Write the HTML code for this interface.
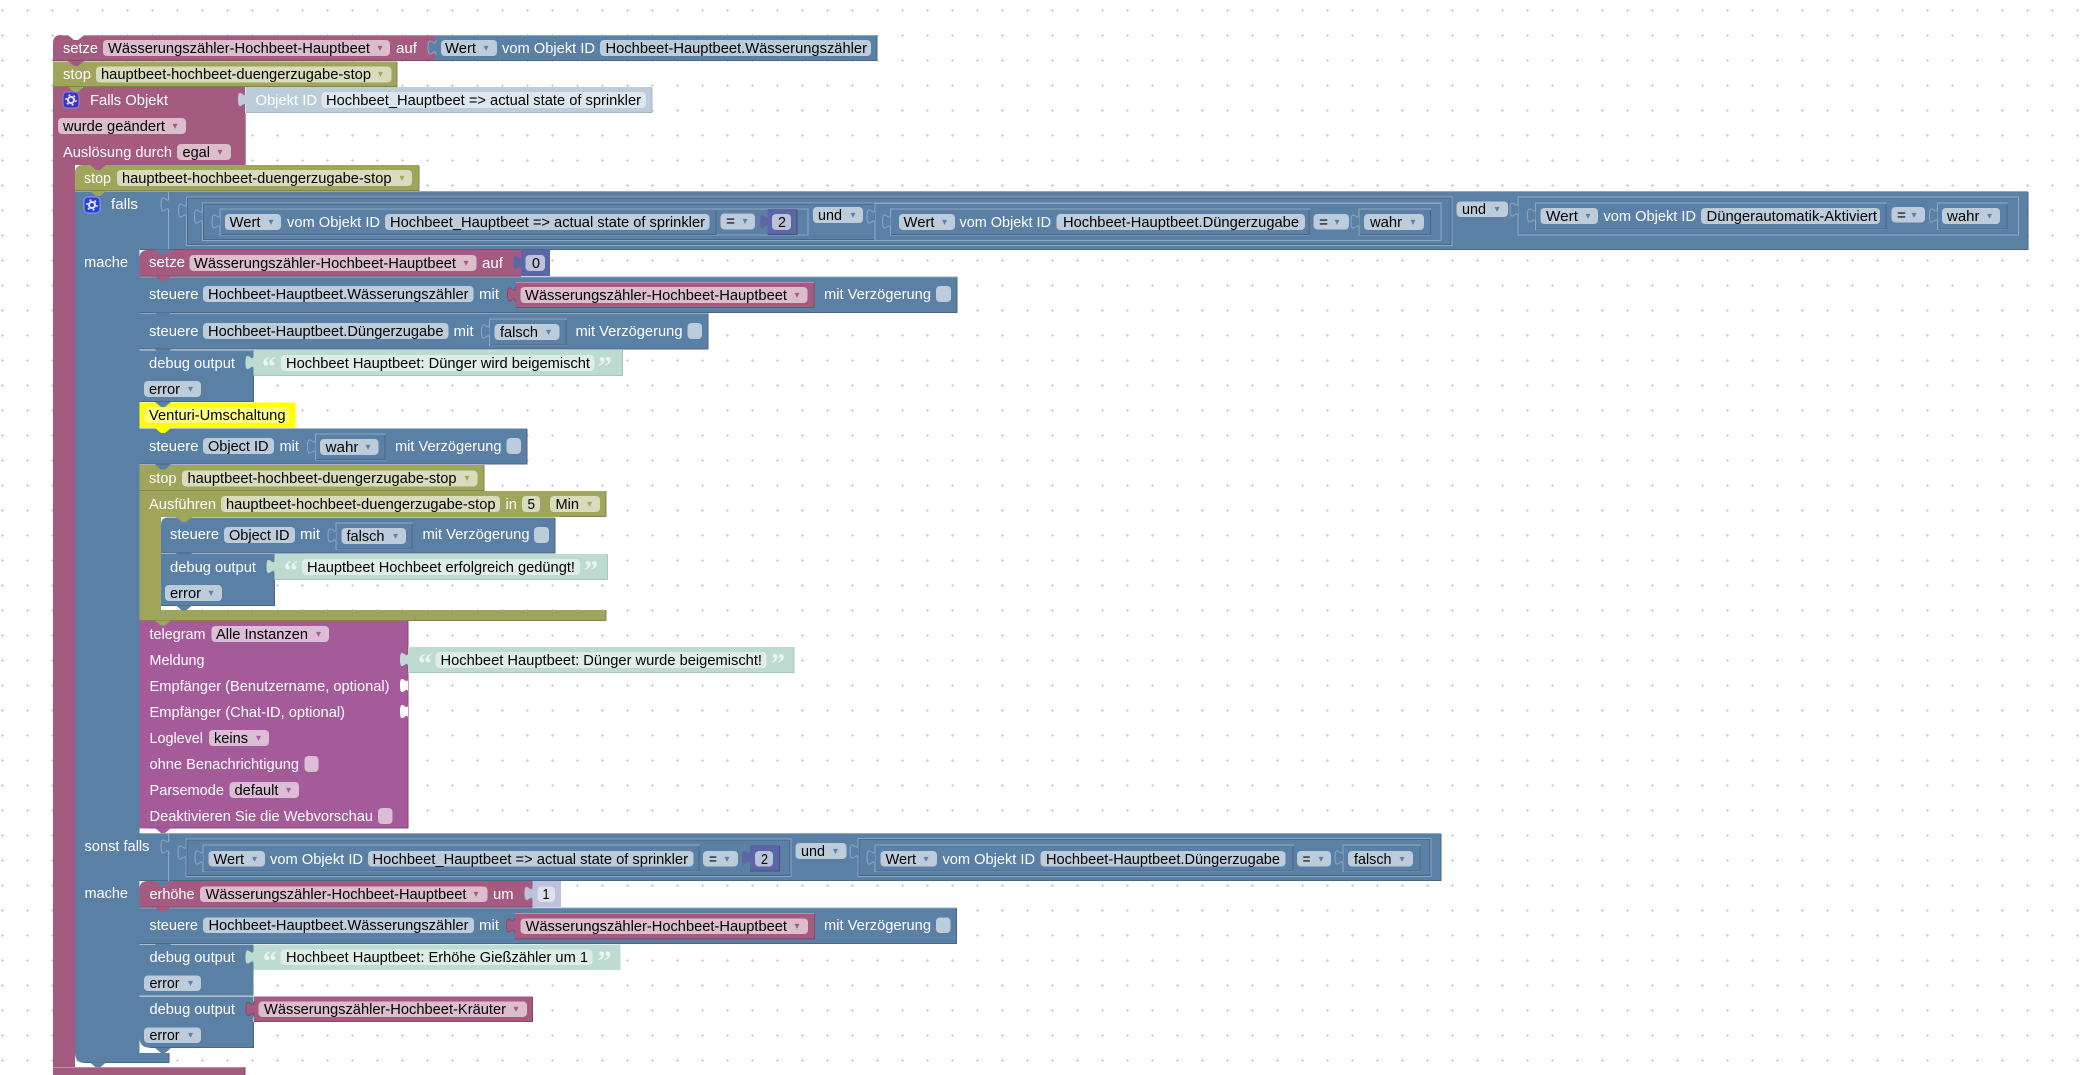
<!DOCTYPE html>
<html><head><meta charset="utf-8"><style>
html,body{margin:0;padding:0;background:#fff;overflow:hidden}
svg{display:block}
text{font-family:"Liberation Sans",sans-serif;font-size:15px;white-space:pre}
.w{fill:#fff}.d{fill:#000}.g{fill:#fff}
.q{font-family:"Liberation Serif",serif;font-size:28px;font-weight:bold;fill:#eaf5f1}
.am,.ab,.ao,.ap{font-family:"DejaVu Sans",sans-serif;font-size:10px;text-anchor:middle}
.am{fill:#a55b80}.ab{fill:#5b80a5}.ao{fill:#9fa55b}.ap{fill:#a55b99}
.M{fill:#a55b80}.B{fill:#5b80a5}.O{fill:#9fa55b}.P{fill:#a55b99}.N{fill:#5b67a5}.L{fill:#bdccdb}.T{fill:#bddbd1}.Y{fill:#ff0}.NL{fill:#bdc2db}.W{fill:#fff}
.fm,.fb,.fo,.fp,.fn,.ft,.fl,.fy{rx:4px;ry:4px}
.fm{fill:#dbbdcc}.fb{fill:#bdccdb}.fo{fill:#d9dbbd}.fp{fill:#dbbdd6}.fn{fill:#bdc2db}.ft{fill:#deede8}.fl{fill:#dee6ed}.fy{fill:#ffff80}
.ob{fill:#5b80a5;stroke:#8fa9c3;stroke-width:1}
.ib{fill:none;stroke:#496684;stroke-width:1}
.tb{fill:#5b80a5;stroke:#8fa9c3;stroke-width:1}
.tm{fill:#a55b80;stroke:#844966;stroke-width:1}
.lb{stroke:#496684;fill:none}.hb{stroke:#8fa9c3;fill:none}
.lm{stroke:#844966;fill:none}.hm{stroke:#c08ca6;fill:none}
.lo{stroke:#7f844a;fill:none}.ho{stroke:#bcc08c;fill:none}
.lp{stroke:#844a7a;fill:none}
.lT{stroke:#a5c8bc;fill:none}
</style></head><body>
<svg xmlns="http://www.w3.org/2000/svg" width="2099" height="1075" viewBox="0 0 2099 1075">
<defs>
<pattern id="dots" width="25" height="25" patternUnits="userSpaceOnUse" x="0" y="0">
<rect x="1" y="10" width="3" height="1" fill="#cfcfcf"/><rect x="2" y="9" width="1" height="3" fill="#cfcfcf"/>
</pattern>
<path id="t" d="M0 0c0 10-8-8-8 7.5s8-2.5 8 7.5"/>
<path id="n" d="M-8 0H8L2 5H-2z"/>
</defs>
<rect width="2099" height="1075" fill="#fff"/>
<rect width="2099" height="1075" fill="url(#dots)"/>

<!-- magenta C frame -->
<path class="M" d="M53 87H245V165H75V1067H245V1075H53z"/>
<path class="hm" d="M245.500 113V165.500"/>
<!-- row 1 -->
<path class="M" d="M53 43Q53 35 61 35H435V61H53z"/>
<path class="lm" d="M53 60.500H435"/><path class="hm" d="M61 35.500H435"/>
<use href="#n" x="76" y="35" class="W"/>
<rect class="B" x="435" y="35" width="442" height="26"/>
<path class="lb" d="M877 35.500V60.500H435"/><path class="hb" d="M435 35.500H877"/>
<use href="#t" x="436" y="40" class="tb"/>
<text class="w" x="63" y="53" textLength="35" lengthAdjust="spacingAndGlyphs">setze</text>
<rect class="fm" x="103" y="40" width="287" height="16"/>
<text class="d" x="108" y="53" textLength="262" lengthAdjust="spacingAndGlyphs">Wässerungszähler-Hochbeet-Hauptbeet</text>
<text class="am" x="380" y="51">▾</text>
<text class="w" x="396" y="53" textLength="21" lengthAdjust="spacingAndGlyphs">auf</text>
<rect class="fb" x="441" y="40" width="56" height="16"/>
<text class="d" x="445" y="53" textLength="31" lengthAdjust="spacingAndGlyphs">Wert</text>
<text class="ab" x="486" y="51">▾</text>
<text class="w" x="502" y="53" textLength="93" lengthAdjust="spacingAndGlyphs">vom Objekt ID</text>
<rect class="fb" x="600" y="40" width="271" height="16"/>
<text class="d" x="605.500" y="53" textLength="261.500" lengthAdjust="spacingAndGlyphs">Hochbeet-Hauptbeet.Wässerungszähler</text>
<!-- row 2 stop -->
<rect class="O" x="53" y="61.500" width="344" height="25.500"/>
<path class="lo" d="M397 62V86.500H53"/>
<text class="w" x="63" y="79" textLength="28" lengthAdjust="spacingAndGlyphs">stop</text>
<rect class="fo" x="96" y="66.500" width="295.500" height="16"/>
<text class="d" x="101" y="79" textLength="270" lengthAdjust="spacingAndGlyphs">hauptbeet-hochbeet-duengerzugabe-stop</text>
<text class="ao" x="380.500" y="77">▾</text>
<!-- falls objekt -->
<rect x="63" y="92" width="16" height="16" rx="4" fill="#3c33c4" stroke="#8f86dc"/>
<circle cx="71" cy="100" r="3" fill="#3c33c4" stroke="#e8e6fa" stroke-width="2"/>
<circle cx="71" cy="100" r="5" fill="none" stroke="#e8e6fa" stroke-width="1.500" stroke-dasharray="2 3.200"/>
<text class="w" x="90" y="105" textLength="78" lengthAdjust="spacingAndGlyphs">Falls Objekt</text>
<rect class="L" x="245.500" y="87" width="406.500" height="26"/>
<path stroke="#a5b7c9" fill="none" d="M652 87.500V112.500H245.500"/>
<use href="#t" x="246" y="92" class="L"/>
<text class="g" x="255.500" y="105" textLength="61.500" lengthAdjust="spacingAndGlyphs">Objekt ID</text>
<rect class="fl" x="321.500" y="92" width="324.500" height="16"/>
<text class="d" x="326" y="105" textLength="315" lengthAdjust="spacingAndGlyphs">Hochbeet_Hauptbeet =&gt; actual state of sprinkler</text>
<rect class="fm" x="58" y="118" width="128" height="16"/>
<text class="d" x="63" y="131" textLength="102" lengthAdjust="spacingAndGlyphs">wurde geändert</text>
<text class="am" x="175" y="129">▾</text>
<text class="w" x="63" y="157" textLength="109" lengthAdjust="spacingAndGlyphs">Auslösung durch</text>
<rect class="fm" x="177" y="144" width="54" height="16"/>
<text class="d" x="182.500" y="157" textLength="27.500" lengthAdjust="spacingAndGlyphs">egal</text>
<text class="am" x="220" y="155">▾</text>

<!-- blue C frame -->
<path class="B" d="M75 191H2028V249.500H139.500V833H1441V881H139.500V1053H169V1063H85Q75 1063 75 1053z"/>
<path class="lb" d="M2028 192V249.500H140"/><path class="hb" d="M75 191.500H2028"/>
<path class="lb" d="M1441 834V880.500H140"/><path class="hb" d="M140 833.500H1441"/>
<path class="hb" d="M168.500 191V249M168.500 833V881"/>
<path class="lb" d="M169 1053V1062.500H86"/>
<path class="W" d="M139.500 1038Q139.500 1047 149 1047.700H253V1053H149Q139.500 1052 139.500 1042z"/>
<rect class="W" x="139.500" y="828" width="270" height="5"/>
<path class="W" d="M139.500 820Q139.500 828 148 828.300H140V833H149Q139.500 832 139.500 826z"/>

<!-- stop 2 -->
<path class="O" d="M75 173Q75 165 83 165H419V191H75z"/>
<path class="lo" d="M419 166V190.500H75"/>
<text class="w" x="84" y="183" textLength="27" lengthAdjust="spacingAndGlyphs">stop</text>
<rect class="fo" x="117" y="170" width="295" height="16"/>
<text class="d" x="122" y="183" textLength="269.500" lengthAdjust="spacingAndGlyphs">hauptbeet-hochbeet-duengerzugabe-stop</text>
<text class="ao" x="402" y="181">▾</text>

<!-- falls row -->
<rect x="84" y="197" width="16" height="16" rx="4" fill="#2a3fd8" stroke="#8fa0ea"/>
<circle cx="92" cy="205" r="3" fill="#2a3fd8" stroke="#e8ecfb" stroke-width="2"/>
<circle cx="92" cy="205" r="5" fill="none" stroke="#e8ecfb" stroke-width="1.500" stroke-dasharray="2 3.200"/>
<text class="w" x="111" y="209" textLength="27" lengthAdjust="spacingAndGlyphs">falls</text>
<use href="#t" x="169" y="197" class="tb"/>
<rect class="ob" x="186.500" y="197" width="1265.500" height="48.500"/>
<rect class="ib" x="187.500" y="198" width="1263.500" height="46.500"/>
<use href="#t" x="186.500" y="203" class="tb"/>
<rect class="ob" x="202.500" y="203" width="1238.500" height="37.500"/>
<rect class="ib" x="203.500" y="204" width="1236.500" height="35.500"/>
<use href="#t" x="202.500" y="209" class="tb"/>
<rect class="ob" x="220" y="209" width="588" height="26"/>
<rect class="ob" x="220" y="209" width="496" height="26"/>
<path class="lb" d="M716 210V234.500H221"/>
<use href="#t" x="220" y="214" class="tb"/>
<rect class="fb" x="225" y="214" width="56" height="16"/>
<text class="d" x="229.500" y="227" textLength="31" lengthAdjust="spacingAndGlyphs">Wert</text>
<text class="ab" x="271" y="225">▾</text>
<text class="w" x="287" y="227" textLength="93" lengthAdjust="spacingAndGlyphs">vom Objekt ID</text>
<rect class="fb" x="385" y="214" width="324.500" height="16"/>
<text class="d" x="390" y="227" textLength="315" lengthAdjust="spacingAndGlyphs">Hochbeet_Hauptbeet =&gt; actual state of sprinkler</text>
<rect class="fb" x="720.500" y="213.500" width="34.500" height="16"/>
<text class="d" x="726" y="226" textLength="9" lengthAdjust="spacingAndGlyphs">=</text>
<text class="ab" x="745" y="224">▾</text>
<rect class="N" x="767.500" y="209" width="29.500" height="26"/>
<path stroke="#464f7f" fill="none" d="M797 209.500V234.500H768"/>
<use href="#t" x="768" y="214" class="N"/>
<rect class="fn" x="772" y="214" width="19" height="16"/>
<text class="d" x="778" y="227" textLength="8" lengthAdjust="spacingAndGlyphs">2</text>
<rect class="fb" x="813" y="207" width="50" height="16"/>
<text class="d" x="818" y="220" textLength="24" lengthAdjust="spacingAndGlyphs">und</text>
<text class="ab" x="853" y="218">▾</text>
<use href="#t" x="875" y="209" class="tb"/>
<rect class="ob" x="875" y="203.500" width="566" height="37"/>
<use href="#t" x="875" y="209" class="tb"/>
<rect class="ob" x="890.500" y="209" width="418.500" height="26"/>
<path class="lb" d="M1309 210V234.500H891"/>
<use href="#t" x="890.500" y="214" class="tb"/>
<rect class="fb" x="899" y="214" width="56" height="16"/>
<text class="d" x="903.500" y="227" textLength="31" lengthAdjust="spacingAndGlyphs">Wert</text>
<text class="ab" x="944.500" y="225">▾</text>
<text class="w" x="959.500" y="227" textLength="91.500" lengthAdjust="spacingAndGlyphs">vom Objekt ID</text>
<rect class="fb" x="1056.500" y="214" width="248.500" height="16"/>
<text class="d" x="1063" y="227" textLength="236" lengthAdjust="spacingAndGlyphs">Hochbeet-Hauptbeet.Düngerzugabe</text>
<rect class="fb" x="1313.500" y="214" width="35.500" height="15.500"/>
<text class="d" x="1319" y="227" textLength="9" lengthAdjust="spacingAndGlyphs">=</text>
<text class="ab" x="1337" y="225">▾</text>
<rect class="ob" x="1359" y="209" width="71.500" height="26"/>
<use href="#t" x="1359" y="214" class="tb"/>
<path class="lb" d="M1430.500 210V234.500H1360"/>
<rect class="fb" x="1364" y="214" width="60" height="16"/>
<text class="d" x="1370" y="227" textLength="32" lengthAdjust="spacingAndGlyphs">wahr</text>
<text class="ab" x="1413" y="225">▾</text>
<rect class="fb" x="1456.500" y="201.500" width="51.500" height="15.500"/>
<text class="d" x="1462" y="214" textLength="24" lengthAdjust="spacingAndGlyphs">und</text>
<text class="ab" x="1497" y="212">▾</text>
<rect class="ob" x="1518" y="197" width="500.500" height="38"/>
<use href="#t" x="1518" y="202" class="tb"/>
<rect class="ob" x="1535.500" y="203" width="350.500" height="26.500"/>
<path class="lb" d="M1886 204V229H1536"/>
<use href="#t" x="1535.500" y="208" class="tb"/>
<rect class="fb" x="1540.500" y="208" width="57.500" height="16"/>
<text class="d" x="1546" y="221" textLength="32" lengthAdjust="spacingAndGlyphs">Wert</text>
<text class="ab" x="1588" y="219">▾</text>
<text class="w" x="1603.500" y="221" textLength="92.500" lengthAdjust="spacingAndGlyphs">vom Objekt ID</text>
<rect class="fb" x="1701" y="208" width="179" height="16"/>
<text class="d" x="1706.500" y="221" textLength="170.500" lengthAdjust="spacingAndGlyphs">Düngerautomatik-Aktiviert</text>
<rect class="fb" x="1891.500" y="207" width="33.500" height="15.500"/>
<text class="d" x="1897" y="220" textLength="9" lengthAdjust="spacingAndGlyphs">=</text>
<text class="ab" x="1914" y="218">▾</text>
<rect class="ob" x="1937.500" y="203" width="69.500" height="26.500"/>
<use href="#t" x="1937.500" y="208" class="tb"/>
<path class="lb" d="M2007 204V229H1938"/>
<rect class="fb" x="1942" y="208" width="58" height="16"/>
<text class="d" x="1947" y="221" textLength="32.500" lengthAdjust="spacingAndGlyphs">wahr</text>
<text class="ab" x="1989.500" y="219">▾</text>

<text class="w" x="84" y="267" textLength="44" lengthAdjust="spacingAndGlyphs">mache</text>
<!-- setze 0 -->
<path class="M" d="M139.500 258Q139.500 250 148 250H521V276H139.500z"/>
<path class="lm" d="M521 276H139.500"/>
<text class="w" x="149" y="267" textLength="36" lengthAdjust="spacingAndGlyphs">setze</text>
<rect class="fm" x="189.500" y="255" width="287" height="16"/>
<text class="d" x="194" y="268" textLength="262" lengthAdjust="spacingAndGlyphs">Wässerungszähler-Hochbeet-Hauptbeet</text>
<text class="am" x="466" y="266">▾</text>
<text class="w" x="482" y="268" textLength="21" lengthAdjust="spacingAndGlyphs">auf</text>
<rect class="N" x="521" y="250" width="29" height="26"/>
<use href="#t" x="521.500" y="255" class="N"/>
<rect class="fn" x="525.500" y="255" width="19.500" height="16"/>
<text class="d" x="532" y="268" textLength="8" lengthAdjust="spacingAndGlyphs">0</text>

<!-- steuere 1 -->
<rect class="B" x="139.500" y="276.500" width="817.500" height="36"/>
<path class="lb" d="M957 277V312.500H139.500"/><path class="hb" d="M139.500 277H957"/>
<text class="w" x="149" y="299" textLength="49.500" lengthAdjust="spacingAndGlyphs">steuere</text>
<rect class="fb" x="203" y="286" width="270.500" height="16"/>
<text class="d" x="208" y="299" textLength="260.500" lengthAdjust="spacingAndGlyphs">Hochbeet-Hauptbeet.Wässerungszähler</text>
<text class="w" x="479" y="299" textLength="20" lengthAdjust="spacingAndGlyphs">mit</text>
<rect class="M" x="515.500" y="282" width="298.500" height="26"/>
<path class="lm" d="M814 282.500V307.500H515.500"/><path class="hm" d="M515.500 282.500H814"/>
<use href="#t" x="515.500" y="287" class="tm"/>
<rect class="fm" x="520.500" y="287" width="287" height="16"/>
<text class="d" x="525" y="300" textLength="262" lengthAdjust="spacingAndGlyphs">Wässerungszähler-Hochbeet-Hauptbeet</text>
<text class="am" x="797" y="298">▾</text>
<text class="w" x="824" y="299" textLength="107" lengthAdjust="spacingAndGlyphs">mit Verzögerung</text>
<rect class="fb" x="936" y="286" width="15" height="16"/>

<!-- steuere 2 -->
<rect class="B" x="139.500" y="313" width="568.500" height="36.500"/>
<path class="lb" d="M708 313V349H139.500"/><path class="hb" d="M139.500 313.500H708"/>
<text class="w" x="149" y="336" textLength="49.500" lengthAdjust="spacingAndGlyphs">steuere</text>
<rect class="fb" x="203" y="323" width="245.500" height="16"/>
<text class="d" x="208" y="336" textLength="235.500" lengthAdjust="spacingAndGlyphs">Hochbeet-Hauptbeet.Düngerzugabe</text>
<text class="w" x="453.500" y="336" textLength="20" lengthAdjust="spacingAndGlyphs">mit</text>
<rect class="ob" x="489.500" y="319" width="76.500" height="26.500"/>
<use href="#t" x="489.500" y="324" class="tb"/>
<path class="lb" d="M566 320V345H490"/>
<rect class="fb" x="494.500" y="324" width="65" height="16"/>
<text class="d" x="500" y="337" textLength="38" lengthAdjust="spacingAndGlyphs">falsch</text>
<text class="ab" x="548.500" y="335">▾</text>
<text class="w" x="575.500" y="336" textLength="107" lengthAdjust="spacingAndGlyphs">mit Verzögerung</text>
<rect class="fb" x="687.500" y="323" width="14.500" height="16"/>

<!-- debug 1 -->
<rect class="B" x="139.500" y="350" width="114" height="52"/>
<path class="lb" d="M253.500 375V401.500H139.500"/><path class="hb" d="M139.500 350.500H253"/>
<text class="w" x="149" y="368" textLength="86" lengthAdjust="spacingAndGlyphs">debug output</text>
<rect class="T" x="253.500" y="350" width="369" height="26"/>
<path class="lT" d="M622.500 350V375.500H253.500"/>
<use href="#t" x="253.500" y="355" class="T"/>
<text class="q" x="262" y="376">“</text>
<rect class="ft" x="281" y="355" width="313.500" height="16"/>
<text class="d" x="286" y="368" textLength="304" lengthAdjust="spacingAndGlyphs">Hochbeet Hauptbeet: Dünger wird beigemischt</text>
<text class="q" x="598" y="376">”</text>
<rect class="fb" x="144" y="381" width="57" height="16"/>
<text class="d" x="149" y="394" textLength="31" lengthAdjust="spacingAndGlyphs">error</text>
<text class="ab" x="190.500" y="392">▾</text>

<!-- Venturi -->
<rect class="Y" x="139.500" y="402.500" width="156" height="25.500"/>
<rect class="fy" x="144.500" y="407.500" width="144.500" height="15.500"/>
<text class="d" x="149" y="420" textLength="136.500" lengthAdjust="spacingAndGlyphs">Venturi-Umschaltung</text>

<!-- steuere object -->
<rect class="B" x="139.500" y="428.500" width="387.500" height="36"/>
<path class="lb" d="M527 429V464H139.500"/>
<text class="w" x="149" y="451" textLength="49.500" lengthAdjust="spacingAndGlyphs">steuere</text>
<rect class="fb" x="203" y="438" width="71" height="16"/>
<text class="d" x="208" y="451" textLength="60.500" lengthAdjust="spacingAndGlyphs">Object ID</text>
<text class="w" x="279.500" y="451" textLength="19.500" lengthAdjust="spacingAndGlyphs">mit</text>
<rect class="ob" x="315.500" y="434" width="69.500" height="26"/>
<use href="#t" x="315.500" y="439" class="tb"/>
<path class="lb" d="M385 435V459.500H316"/>
<rect class="fb" x="320" y="439" width="58.500" height="16"/>
<text class="d" x="325.500" y="452" textLength="33" lengthAdjust="spacingAndGlyphs">wahr</text>
<text class="ab" x="368" y="450">▾</text>
<text class="w" x="395" y="451" textLength="106.500" lengthAdjust="spacingAndGlyphs">mit Verzögerung</text>
<rect class="fb" x="506.500" y="438" width="14.500" height="16"/>

<!-- stop 3 -->
<rect class="O" x="139.500" y="465" width="344.500" height="26"/>
<path class="lo" d="M484 465V490.500H139.500"/>
<text class="w" x="149" y="483" textLength="27.500" lengthAdjust="spacingAndGlyphs">stop</text>
<rect class="fo" x="182" y="470.500" width="295.500" height="16"/>
<text class="d" x="187.500" y="483" textLength="269" lengthAdjust="spacingAndGlyphs">hauptbeet-hochbeet-duengerzugabe-stop</text>
<text class="ao" x="467" y="481">▾</text>

<!-- ausfuehren -->
<path class="O" d="M139.500 491H606V517H161V610H606V621H139.500z"/>
<path class="lo" d="M606 491V516.500H560M606 610V620.500H139.500"/>
<path class="W" d="M161 598Q161 605 168 606H170V610H168Q161 609 161 602z"/>
<text class="w" x="149" y="509" textLength="67" lengthAdjust="spacingAndGlyphs">Ausführen</text>
<rect class="fo" x="221" y="496" width="279" height="16"/>
<text class="d" x="226" y="509" textLength="269.500" lengthAdjust="spacingAndGlyphs">hauptbeet-hochbeet-duengerzugabe-stop</text>
<text class="w" x="505.500" y="509" textLength="11.500" lengthAdjust="spacingAndGlyphs">in</text>
<rect class="fo" x="522" y="496" width="18" height="16"/>
<text class="d" x="527.500" y="509" textLength="7.500" lengthAdjust="spacingAndGlyphs">5</text>
<rect class="fo" x="550" y="496" width="50" height="16"/>
<text class="d" x="555.500" y="509" textLength="23.500" lengthAdjust="spacingAndGlyphs">Min</text>
<text class="ao" x="589.500" y="507">▾</text>

<!-- inner steuere -->
<path class="B" d="M161 525Q161 517.500 168 517.500H555V553.500H161z"/>
<path class="lb" d="M555 518V553H161"/>
<text class="w" x="170" y="539" textLength="49" lengthAdjust="spacingAndGlyphs">steuere</text>
<rect class="fb" x="224" y="527" width="71" height="16"/>
<text class="d" x="229" y="540" textLength="60.500" lengthAdjust="spacingAndGlyphs">Object ID</text>
<text class="w" x="300" y="539" textLength="20" lengthAdjust="spacingAndGlyphs">mit</text>
<rect class="ob" x="336" y="523" width="76" height="26.500"/>
<use href="#t" x="336" y="528" class="tb"/>
<path class="lb" d="M412 524V549H337"/>
<rect class="fb" x="341.500" y="528" width="64.500" height="16"/>
<text class="d" x="346.500" y="541" textLength="38" lengthAdjust="spacingAndGlyphs">falsch</text>
<text class="ab" x="395.500" y="539">▾</text>
<text class="w" x="422.500" y="539" textLength="107" lengthAdjust="spacingAndGlyphs">mit Verzögerung</text>
<rect class="fb" x="534" y="527" width="15" height="16"/>

<!-- inner debug -->
<rect class="B" x="161" y="554" width="113.500" height="52"/>
<path class="lb" d="M274.500 580V605.500H161"/>
<text class="w" x="170" y="572" textLength="86" lengthAdjust="spacingAndGlyphs">debug output</text>
<rect class="T" x="274.500" y="554" width="333" height="26"/>
<path class="lT" d="M607.500 554V579.500H274.500"/>
<use href="#t" x="274.500" y="559" class="T"/>
<text class="q" x="284" y="580">“</text>
<rect class="ft" x="302" y="559" width="278" height="16"/>
<text class="d" x="307" y="572" textLength="268" lengthAdjust="spacingAndGlyphs">Hauptbeet Hochbeet erfolgreich gedüngt!</text>
<text class="q" x="584" y="580">”</text>
<rect class="fb" x="165" y="585" width="57" height="16"/>
<text class="d" x="170" y="598" textLength="31" lengthAdjust="spacingAndGlyphs">error</text>
<text class="ab" x="211" y="596">▾</text>

<!-- telegram -->
<rect class="P" x="139.500" y="621" width="268.500" height="207.500"/>
<path class="lp" d="M408 621V828H149"/>
<text class="w" x="149.500" y="639" textLength="56" lengthAdjust="spacingAndGlyphs">telegram</text>
<rect class="fp" x="211.500" y="626" width="117.500" height="16"/>
<text class="d" x="216" y="639" textLength="92" lengthAdjust="spacingAndGlyphs">Alle Instanzen</text>
<text class="ap" x="318.500" y="637">▾</text>
<text class="w" x="149.500" y="665" textLength="55" lengthAdjust="spacingAndGlyphs">Meldung</text>
<rect class="T" x="408" y="647" width="386" height="26"/>
<path class="lT" d="M794 647V672.500H408"/>
<use href="#t" x="408" y="652" class="T"/>
<text class="q" x="418" y="673">“</text>
<rect class="ft" x="435.500" y="652" width="331" height="16"/>
<text class="d" x="440.500" y="665" textLength="321.500" lengthAdjust="spacingAndGlyphs">Hochbeet Hauptbeet: Dünger wurde beigemischt!</text>
<text class="q" x="771" y="673">”</text>
<text class="w" x="149.500" y="691" textLength="240" lengthAdjust="spacingAndGlyphs">Empfänger (Benutzername, optional)</text>
<use href="#t" x="408" y="678" class="W"/>
<text class="w" x="149.500" y="717" textLength="195.500" lengthAdjust="spacingAndGlyphs">Empfänger (Chat-ID, optional)</text>
<use href="#t" x="408" y="704" class="W"/>
<text class="w" x="149.500" y="743" textLength="53.500" lengthAdjust="spacingAndGlyphs">Loglevel</text>
<rect class="fp" x="209" y="730" width="60" height="16"/>
<text class="d" x="214" y="743" textLength="34" lengthAdjust="spacingAndGlyphs">keins</text>
<text class="ap" x="258.500" y="741">▾</text>
<text class="w" x="149.500" y="769" textLength="149.500" lengthAdjust="spacingAndGlyphs">ohne Benachrichtigung</text>
<rect class="fp" x="304.500" y="756" width="14" height="16"/>
<text class="w" x="149.500" y="795" textLength="74.500" lengthAdjust="spacingAndGlyphs">Parsemode</text>
<rect class="fp" x="229.500" y="782" width="69.500" height="16"/>
<text class="d" x="234.500" y="795" textLength="44" lengthAdjust="spacingAndGlyphs">default</text>
<text class="ap" x="288.500" y="793">▾</text>
<text class="w" x="149.500" y="821" textLength="223.500" lengthAdjust="spacingAndGlyphs">Deaktivieren Sie die Webvorschau</text>
<rect class="fp" x="378" y="808" width="14.500" height="16"/>

<!-- sonst falls -->
<text class="w" x="84.500" y="851" textLength="65" lengthAdjust="spacingAndGlyphs">sonst falls</text>
<use href="#t" x="169" y="839" class="tb"/>
<rect class="ob" x="186" y="839" width="605" height="37.500"/>
<rect class="ib" x="187" y="840" width="603" height="35.500"/>
<use href="#t" x="186" y="845" class="tb"/>
<rect class="ob" x="203" y="845" width="496" height="26.500"/>
<path class="lb" d="M699 846V871H204"/>
<use href="#t" x="203" y="850" class="tb"/>
<rect class="fb" x="208.500" y="851" width="56.500" height="15.500"/>
<text class="d" x="213.500" y="864" textLength="30.500" lengthAdjust="spacingAndGlyphs">Wert</text>
<text class="ab" x="254.500" y="862">▾</text>
<text class="w" x="270" y="864" textLength="93" lengthAdjust="spacingAndGlyphs">vom Objekt ID</text>
<rect class="fb" x="368" y="851" width="325.500" height="15.500"/>
<text class="d" x="372.500" y="864" textLength="315.500" lengthAdjust="spacingAndGlyphs">Hochbeet_Hauptbeet =&gt; actual state of sprinkler</text>
<rect class="fb" x="703" y="851" width="35" height="15.500"/>
<text class="d" x="709" y="864" textLength="8" lengthAdjust="spacingAndGlyphs">=</text>
<text class="ab" x="727" y="862">▾</text>
<rect class="N" x="750" y="845" width="29.500" height="26.500"/>
<path stroke="#464f7f" fill="none" d="M779.500 846V871H750"/>
<use href="#t" x="750" y="850" class="N"/>
<rect class="fn" x="755" y="851" width="18" height="15.500"/>
<text class="d" x="761" y="864" textLength="7" lengthAdjust="spacingAndGlyphs">2</text>
<rect class="fb" x="795.500" y="843" width="51" height="16"/>
<text class="d" x="801" y="856" textLength="24" lengthAdjust="spacingAndGlyphs">und</text>
<text class="ab" x="835.500" y="854">▾</text>
<rect class="ob" x="858" y="838.500" width="573" height="38"/>
<rect class="ib" x="859" y="839.500" width="571" height="36"/>
<use href="#t" x="858" y="844" class="tb"/>
<rect class="ob" x="875" y="845" width="418" height="26.500"/>
<path class="lb" d="M1293 846V871H876"/>
<use href="#t" x="875" y="850" class="tb"/>
<rect class="fb" x="880.500" y="851" width="56.500" height="15.500"/>
<text class="d" x="885.500" y="864" textLength="30.500" lengthAdjust="spacingAndGlyphs">Wert</text>
<text class="ab" x="926" y="862">▾</text>
<text class="w" x="942.500" y="864" textLength="92.500" lengthAdjust="spacingAndGlyphs">vom Objekt ID</text>
<rect class="fb" x="1040.500" y="851" width="245" height="15.500"/>
<text class="d" x="1046" y="864" textLength="234" lengthAdjust="spacingAndGlyphs">Hochbeet-Hauptbeet.Düngerzugabe</text>
<rect class="fb" x="1297" y="851" width="34" height="15.500"/>
<text class="d" x="1302.500" y="864" textLength="8" lengthAdjust="spacingAndGlyphs">=</text>
<text class="ab" x="1321" y="862">▾</text>
<rect class="ob" x="1343" y="845" width="77" height="26.500"/>
<use href="#t" x="1343" y="850" class="tb"/>
<path class="lb" d="M1420 846V871H1344"/>
<rect class="fb" x="1348" y="851" width="65" height="15.500"/>
<text class="d" x="1354" y="864" textLength="37.500" lengthAdjust="spacingAndGlyphs">falsch</text>
<text class="ab" x="1402" y="862">▾</text>

<text class="w" x="84.500" y="898" textLength="43.500" lengthAdjust="spacingAndGlyphs">mache</text>
<!-- erhoehe -->
<path class="M" d="M139.500 889Q139.500 881 148 881H532.500V907H139.500z"/>
<path class="lm" d="M532.500 907H139.500"/>
<text class="w" x="149.500" y="899" textLength="45" lengthAdjust="spacingAndGlyphs">erhöhe</text>
<rect class="fm" x="200" y="886.500" width="287.500" height="15.500"/>
<text class="d" x="205.500" y="899" textLength="261" lengthAdjust="spacingAndGlyphs">Wässerungszähler-Hochbeet-Hauptbeet</text>
<text class="am" x="476" y="897">▾</text>
<text class="w" x="493" y="899" textLength="20.500" lengthAdjust="spacingAndGlyphs">um</text>
<rect class="NL" x="532.500" y="881" width="28.500" height="26"/>
<use href="#t" x="532.500" y="886" class="NL"/>
<rect class="fl" x="537.500" y="886.500" width="17.500" height="15.500" style="fill:#dee0ed"/>
<text class="d" x="542.500" y="899" textLength="7" lengthAdjust="spacingAndGlyphs">1</text>

<!-- steuere 3 -->
<rect class="B" x="139.500" y="907.500" width="817" height="36.500"/>
<path class="lb" d="M956.500 908V943.500H139.500"/><path class="hb" d="M139.500 908H956.500"/>
<text class="w" x="149.500" y="930" textLength="48.500" lengthAdjust="spacingAndGlyphs">steuere</text>
<rect class="fb" x="203" y="917.500" width="271" height="15.500"/>
<text class="d" x="208.500" y="930" textLength="260" lengthAdjust="spacingAndGlyphs">Hochbeet-Hauptbeet.Wässerungszähler</text>
<text class="w" x="479" y="930" textLength="20" lengthAdjust="spacingAndGlyphs">mit</text>
<rect class="M" x="514.500" y="913" width="300" height="26.500"/>
<path class="lm" d="M814.500 913.500V939H514.500"/><path class="hm" d="M514.500 913.500H814.500"/>
<use href="#t" x="514.500" y="918" class="tm"/>
<rect class="fm" x="520.500" y="918.500" width="287.500" height="15.500"/>
<text class="d" x="525.500" y="931" textLength="261.500" lengthAdjust="spacingAndGlyphs">Wässerungszähler-Hochbeet-Hauptbeet</text>
<text class="am" x="797" y="929">▾</text>
<text class="w" x="824" y="930" textLength="107" lengthAdjust="spacingAndGlyphs">mit Verzögerung</text>
<rect class="fb" x="936" y="917.500" width="14.500" height="15.500"/>

<!-- debug 3 -->
<rect class="B" x="139.500" y="944.500" width="114" height="51.500"/>
<path class="hb" d="M139.500 995.500H253"/>
<text class="w" x="149.500" y="962" textLength="85.500" lengthAdjust="spacingAndGlyphs">debug output</text>
<rect class="T" x="253.500" y="944.500" width="367" height="25.500"/>
<use href="#t" x="253.500" y="949.500" class="T"/>
<text class="q" x="263" y="970.500">“</text>
<rect class="ft" x="280.500" y="949.500" width="312" height="15.500"/>
<text class="d" x="286" y="962" textLength="302" lengthAdjust="spacingAndGlyphs">Hochbeet Hauptbeet: Erhöhe Gießzähler um 1</text>
<text class="q" x="597.500" y="970.500">”</text>
<rect class="fb" x="144" y="975.500" width="57" height="15.500"/>
<text class="d" x="149.500" y="988" textLength="30" lengthAdjust="spacingAndGlyphs">error</text>
<text class="ab" x="190.500" y="986">▾</text>

<!-- debug 4 -->
<path class="B" d="M139.500 996.500H253.500V1047.700H149Q139.500 1047 139.500 1038z"/>
<path class="lb" d="M253.500 1022V1047.500H150"/>
<text class="w" x="149.500" y="1014" textLength="85.500" lengthAdjust="spacingAndGlyphs">debug output</text>
<rect class="M" x="254" y="996.500" width="278.500" height="25"/>
<path class="lm" d="M532.500 997V1021.500H254"/>
<use href="#t" x="254" y="1001.500" class="tm"/>
<rect class="fm" x="258.500" y="1001.500" width="268.500" height="15.500"/>
<text class="d" x="264" y="1014" textLength="242" lengthAdjust="spacingAndGlyphs">Wässerungszähler-Hochbeet-Kräuter</text>
<text class="am" x="516" y="1012">▾</text>
<rect class="fb" x="144" y="1027.500" width="57" height="15.500"/>
<text class="d" x="149.500" y="1040" textLength="30" lengthAdjust="spacingAndGlyphs">error</text>
<text class="ab" x="190.500" y="1038">▾</text>

<!-- magenta bottom edge highlight -->
<path class="hm" d="M53 1067.500H245"/>
<path class="lm" d="M245 1067V1075"/>

<!-- notches -->
<use href="#n" x="76" y="61" class="M"/>
<use href="#n" x="76" y="87" class="O"/>
<use href="#n" x="98" y="165" class="M"/>
<use href="#n" x="98" y="191" class="O"/>
<use href="#n" x="163" y="249.500" class="B"/>
<use href="#n" x="163" y="276" class="M"/>
<use href="#n" x="163" y="312.500" class="B"/>
<use href="#n" x="163" y="349.500" class="B"/>
<use href="#n" x="163" y="402" class="B"/>
<use href="#n" x="163" y="428" class="Y"/>
<use href="#n" x="163" y="464.500" class="B"/>
<use href="#n" x="163" y="491" class="O"/>
<use href="#n" x="184" y="517" class="O"/>
<use href="#n" x="184" y="553.500" class="B"/>
<use href="#n" x="184" y="605.500" class="B"/>
<use href="#n" x="163" y="620.500" class="O"/>
<use href="#n" x="163" y="828" class="P"/>
<use href="#n" x="163" y="881" class="B"/>
<use href="#n" x="163" y="907" class="M"/>
<use href="#n" x="163" y="944" class="B"/>
<use href="#n" x="163" y="1048" class="B"/>
<use href="#n" x="98" y="1062.500" class="B"/>
</svg>
</body></html>
